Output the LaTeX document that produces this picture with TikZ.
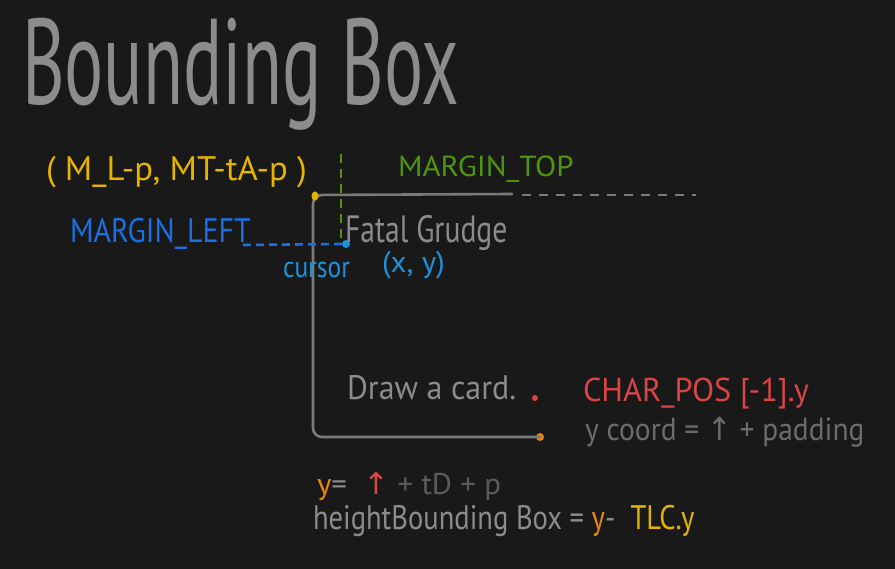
\documentclass[tikz,border=0pt]{standalone}
\usepackage{fontspec}
\setmainfont{PT Sans}
\newfontfamily\symfont{DejaVu Sans}
\usepackage{graphicx}
\definecolor{bg}{HTML}{191919}
\definecolor{txtgray}{HTML}{8C8C8C}
\definecolor{boxgray}{HTML}{7A7A7A}
\definecolor{dimgray}{HTML}{6C6C6C}
\definecolor{darkgray2}{HTML}{5C5C5C}
\definecolor{mgreen}{HTML}{4F950F}
\definecolor{myellow}{HTML}{E6B400}
\definecolor{mblue}{HTML}{1A6FE3}
\definecolor{lblue}{HTML}{1D91D9}
\definecolor{mred}{HTML}{D94545}
\definecolor{morange}{HTML}{E8860A}
\newcommand{\sx}[2]{\scalebox{#1}[1]{#2}}
\newcommand{\fs}[1]{\fontsize{#1}{#1}\selectfont}
\newcommand{\uparr}{{\symfont ↑}}
\tikzset{
  lbl/.style={inner sep=0pt, outer sep=0pt, anchor=base west},
  boxline/.style={draw=boxgray, line width=2.6pt, line cap=round},
  dot/.style={circle, inner sep=0pt, minimum size=#1},
  gdash/.style={draw=boxgray, line width=2.6pt, dash pattern=on 9pt off 8pt},
  greendash/.style={draw=mgreen, line width=2.6pt, dash pattern=on 9pt off 6pt},
  bluedash/.style={draw=mblue, line width=2.6pt, dash pattern=on 8pt off 5pt}
}
\begin{document}
\begin{tikzpicture}[x=1pt,y=-1pt]
\fill[bg] (0,0) rectangle (895,569);
\useasboundingbox (0,0) rectangle (895,569);

% title
\node[lbl, text=txtgray] (title) at (22,105) {\fs{122}\sx{0.6}{Bounding Box}};

% top-left formula
\node[lbl, text=myellow] (tlcf) at (46,181) {\fs{34}\sx{1.02}{( M\_L-p, MT-tA-p )}};
\node[lbl, text=mgreen] (mtop) at (398,177) {\fs{29}\sx{1.07}{MARGIN\_TOP}};
\node[lbl, text=mblue] (mleft) at (70,243) {\fs{34}\sx{0.88}{MARGIN\_LEFT}};

% box
\coordinate (tr) at (512,194);
\coordinate (bl) at (313,437);
\node[dot=8pt, fill=morange] (br) at (540,437) {};
\draw[boxline, rounded corners=9pt] (tr) -- (313,195) -- (bl) -- (br.center);
\coordinate (d1) at (522,195);
\coordinate (d2) at (696,195);
\draw[gdash] (d1) -- (d2);
\node[dot=7pt, fill=myellow, yscale=1.3] (tlc) at (315,196) {};

% margin lines
\coordinate (g1) at (341,154);
\coordinate (g2) at (341,242);
\draw[greendash] (g1) -- (g2);
\node[dot=8pt, fill=lblue] (cur) at (346,244) {};
\coordinate (b1) at (243,245);
\draw[bluedash] (b1) -- (cur.west);

% text near cursor
\node[lbl, text=txtgray] (fg) at (345,243) {\fs{38}\sx{0.78}{Fatal Grudge}};
\node[lbl, text=lblue] (cursor) at (283,278) {\fs{30}\sx{0.85}{cursor}};
\node[lbl, text=lblue] (xy) at (382,273) {\fs{30}\sx{1.03}{(x, y)}};

% inside box
\node[lbl, text=txtgray] (card) at (347,400) {\fs{34}\sx{0.94}{Draw a card.}};
\node[dot=6pt, fill=mred] (cp) at (535,398) {};
\node[lbl, text=mred] (charpos) at (583,402) {\fs{33}\sx{0.98}{CHAR\_POS [-1].y}};
\node[lbl, text=dimgray] (ycoord) at (585,440) {\fs{32}\sx{0.92}{y coord = \uparr\ + padding}};

% bottom formulas
\node[lbl, text=darkgray2] (yform) at (317,494) {\fs{30}\sx{1.03}{\textcolor{morange}{y}\textcolor{txtgray}{=}\ \ \textcolor{mred}{\uparr}\ + tD + p}};
\node[lbl, text=txtgray] (hform) at (313,529) {\fs{34}\sx{0.84}{heightBounding Box = \textcolor{morange}{y}- \ \textcolor{myellow}{TLC.y}}};
\end{tikzpicture}
\end{document}
